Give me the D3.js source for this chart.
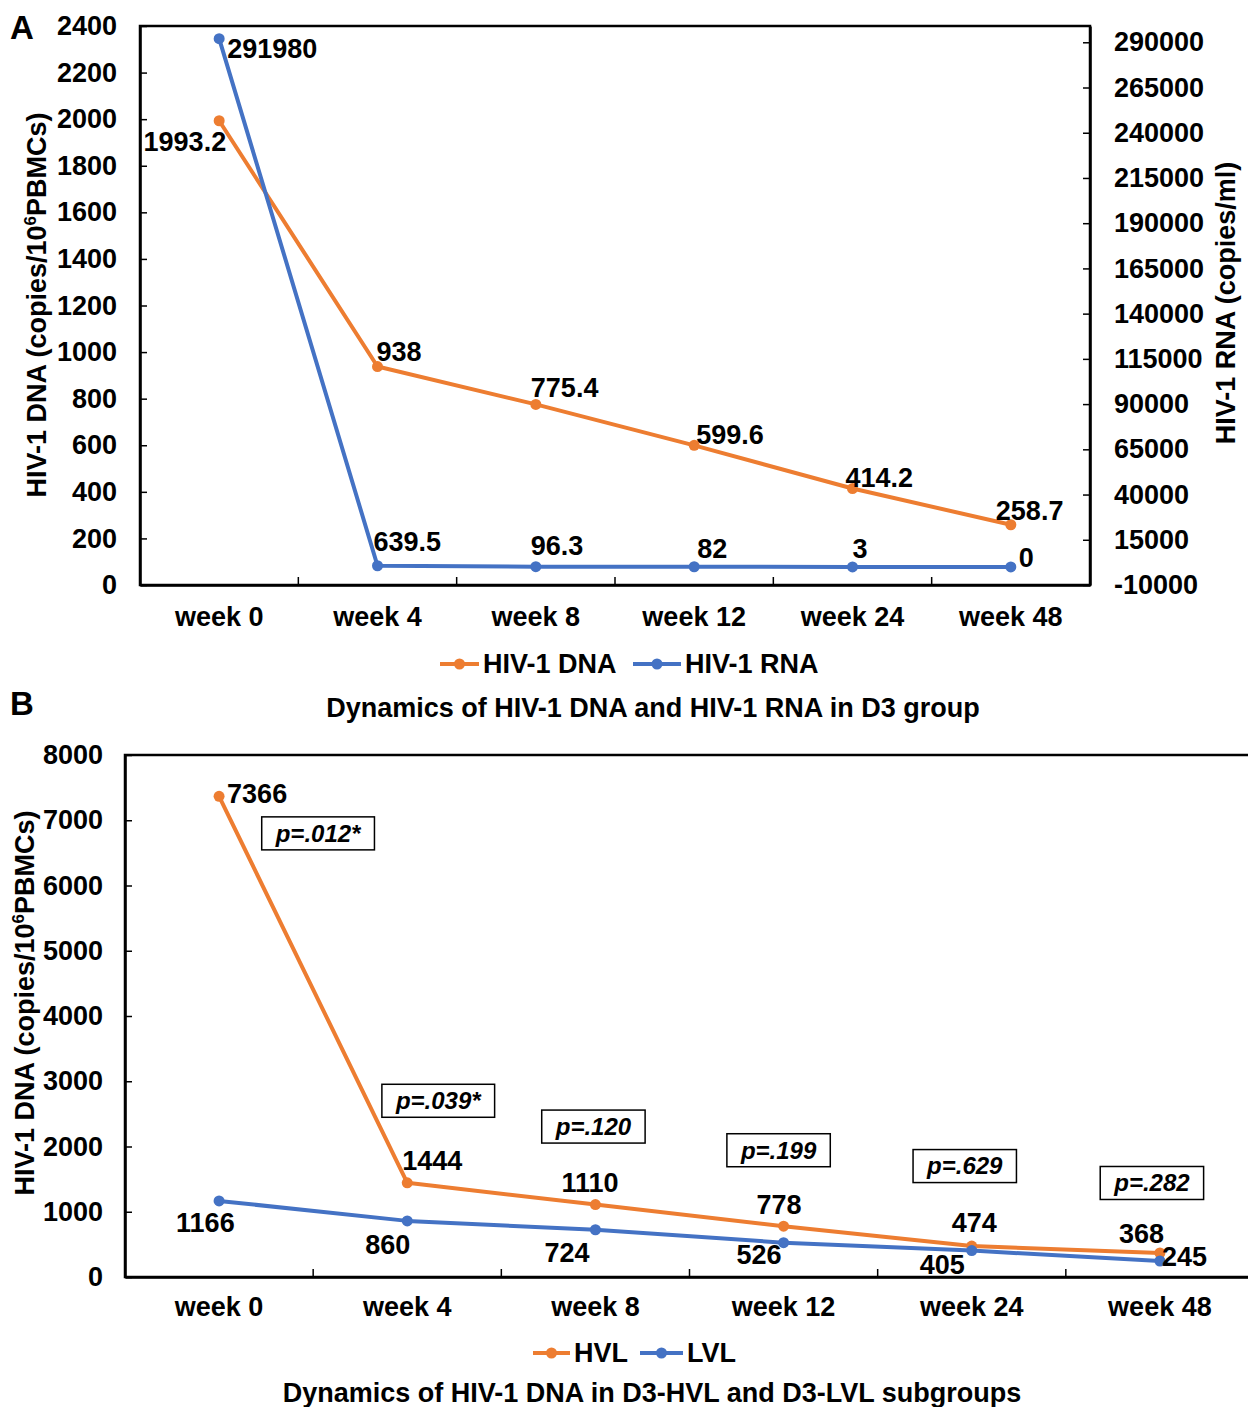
<!DOCTYPE html>
<html>
<head>
<meta charset="utf-8">
<script src="https://cdn.jsdelivr.net/npm/d3@7"></script>
<style>
  body { margin: 0; background: #fff; }
  text { font-family: Arial, "Liberation Sans", sans-serif; font-weight: bold; fill: #000; }
</style>
</head>
<body>
<svg id="chart" width="1248" height="1407"></svg>
<script>
// data
const weeks = ['week 0', 'week 4', 'week 8', 'week 12', 'week 24', 'week 48'];
const dnaD3 = [1993.2, 938, 775.4, 599.6, 414.2, 258.7];
const rnaD3 = [291980, 639.5, 96.3, 82, 3, 0];
const dnaHVL = [7366, 1444, 1110, 778, 474, 368];
const dnaLVL = [1166, 860, 724, 526, 405, 245];
const pValues = ['p=.012*', 'p=.039*', 'p=.120', 'p=.199', 'p=.629', 'p=.282'];
const ticksA = d3.range(0, 2401, 200);
const ticksA2 = d3.range(-10000, 290001, 25000);
const ticksB = d3.range(0, 8001, 1000);

// label placement [dx, dy, anchor]
const labDna = [[7, 21, 'end'], [-1, -15, 'start'], [-5, -17, 'start'], [2, -11, 'start'], [-7, -11, 'start'], [-15, -14, 'start']];
const labRna = [[8, 10, 'start'], [-4, -24, 'start'], [-5, -21, 'start'], [3, -18, 'start'], [0, -18, 'start'], [8, -9, 'start']];
const labHVL = [[8, -3, 'start'], [-5, -22, 'start'], [-34, -22, 'start'], [-27, -22, 'start'], [-20, -24, 'start'], [-41, -19, 'start']];
const labLVL = [[-43, 22, 'start'], [-42, 24, 'start'], [-51, 23, 'start'], [-47, 12, 'start'], [-52, 14, 'start'], [2, -4, 'start']];
const pOffsets = [[99, 37], [31, -82], [-2, -78], [-5, -76], [-7, -80], [-8, -70]];

const ORANGE = '#ED7D31', BLUE = '#4472C4';
const FS = 27;
const plain = d => String(d);
const svg = d3.select('#chart');

function yTitle(g, x, y, label) {
  const t = g.append('text')
    .attr('transform', `translate(${x},${y}) rotate(-90)`)
    .attr('text-anchor', 'middle')
    .attr('dy', '0.35em')
    .attr('font-size', FS);
  t.append('tspan').text(label[0]);
  if (label.length > 1) {
    t.append('tspan').text(label[1]).attr('font-size', 17).attr('dy', '-0.6em');
    t.append('tspan').text(label[2]).attr('dy', '0.35em');
  }
  return t;
}

function styleAxis(g) {
  g.select('.domain').attr('stroke', '#000').attr('stroke-width', 2.5);
  g.selectAll('.tick line').attr('stroke', '#000').attr('stroke-width', 1.5);
  g.selectAll('.tick text').attr('font-size', FS).attr('fill', '#000');
}

function catTicks(g, x, y0) {
  g.append('g').selectAll('line')
    .data(weeks.slice(1))
    .join('line')
    .attr('x1', d => x(d)).attr('x2', d => x(d))
    .attr('y1', y0).attr('y2', y0 - 8)
    .attr('stroke', '#000').attr('stroke-width', 1.5);
}

function series(g, x, y, values, color, place) {
  const pts = values.map((v, i) => [x(weeks[i]) + x.bandwidth() / 2, y(v)]);
  g.append('path')
    .attr('d', d3.line()(pts))
    .attr('fill', 'none')
    .attr('stroke', color)
    .attr('stroke-width', 4)
    .attr('stroke-linejoin', 'round');
  g.append('g').selectAll('circle')
    .data(pts)
    .join('circle')
    .attr('cx', d => d[0]).attr('cy', d => d[1]).attr('r', 5.5)
    .attr('fill', color);
  g.append('g').selectAll('text')
    .data(values)
    .join('text')
    .attr('x', (d, i) => pts[i][0] + place[i][0])
    .attr('y', (d, i) => pts[i][1] + place[i][1])
    .attr('dy', '0.35em')
    .attr('text-anchor', (d, i) => place[i][2])
    .attr('font-size', FS)
    .text(d => String(d));
  return pts;
}

function legend(g, items, y) {
  items.forEach(it => {
    g.append('line')
      .attr('x1', it.x0).attr('x2', it.x1).attr('y1', y).attr('y2', y)
      .attr('stroke', it.color).attr('stroke-width', 4);
    g.append('circle')
      .attr('cx', (it.x0 + it.x1) / 2).attr('cy', y).attr('r', 5.5)
      .attr('fill', it.color);
    g.append('text')
      .attr('x', it.x1 + 4).attr('y', y).attr('dy', '0.35em')
      .attr('font-size', FS)
      .text(it.name);
  });
}

// ---------- Panel A ----------
const gA = svg.append('g');
const xA = d3.scaleBand().domain(weeks).range([140, 1090]);
const yA = d3.scaleLinear().domain([0, 2400]).range([585, 26]);
const yA2 = d3.scaleLinear().domain([-10000, 299000]).range([585, 26]);

gA.append('rect')
  .attr('x', 140).attr('y', 26).attr('width', 950).attr('height', 559)
  .attr('fill', 'none').attr('stroke', '#000').attr('stroke-width', 2.5);

gA.append('g')
  .attr('transform', 'translate(140,0)')
  .call(d3.axisLeft(yA).tickValues(ticksA).tickSizeInner(-7).tickSizeOuter(0).tickPadding(23).tickFormat(plain))
  .call(styleAxis);

gA.append('g')
  .attr('transform', 'translate(1090,0)')
  .call(d3.axisRight(yA2).tickValues(ticksA2).tickSizeInner(-7).tickSizeOuter(0).tickPadding(24).tickFormat(plain))
  .call(styleAxis);

gA.append('g')
  .attr('transform', 'translate(0,585)')
  .call(d3.axisBottom(xA).tickSize(0).tickPadding(22))
  .call(styleAxis);
catTicks(gA, xA, 585);

yTitle(gA, 37, 305, ['HIV-1 DNA (copies/10', '6', 'PBMCs)']);
yTitle(gA, 1226, 303, ['HIV-1 RNA (copies/ml)']);

series(gA, xA, yA, dnaD3, ORANGE, labDna);
series(gA, xA, yA2, rnaD3, BLUE, labRna);

legend(gA, [
  { name: 'HIV-1 DNA', color: ORANGE, x0: 440, x1: 479 },
  { name: 'HIV-1 RNA', color: BLUE, x0: 633, x1: 681 }
], 664);

gA.append('text').attr('x', 653).attr('y', 708).attr('dy', '0.35em')
  .attr('text-anchor', 'middle').attr('font-size', FS)
  .text('Dynamics of HIV-1 DNA and HIV-1 RNA in D3 group');

svg.append('text').attr('x', 10).attr('y', 39).attr('font-size', 33).text('A');
svg.append('text').attr('x', 10).attr('y', 715).attr('font-size', 33).text('B');

// ---------- Panel B ----------
const gB = svg.append('g');
const xB = d3.scaleBand().domain(weeks).range([125, 1254]);
const yB = d3.scaleLinear().domain([0, 8000]).range([1277, 755]);

gB.append('rect')
  .attr('x', 125).attr('y', 755).attr('width', 1129).attr('height', 522)
  .attr('fill', 'none').attr('stroke', '#000').attr('stroke-width', 2.5);

gB.append('g')
  .attr('transform', 'translate(125,0)')
  .call(d3.axisLeft(yB).tickValues(ticksB).tickSizeInner(-7).tickSizeOuter(0).tickPadding(22).tickFormat(plain))
  .call(styleAxis);

gB.append('g')
  .attr('transform', 'translate(0,1277)')
  .call(d3.axisBottom(xB).tickSize(0).tickPadding(20))
  .call(styleAxis);
catTicks(gB, xB, 1277);

yTitle(gB, 25, 1003, ['HIV-1 DNA (copies/10', '6', 'PBMCs)']);

const ptsH = series(gB, xB, yB, dnaHVL, ORANGE, labHVL);
series(gB, xB, yB, dnaLVL, BLUE, labLVL);

// p-value boxes
pValues.forEach((p, i) => {
  const cx = ptsH[i][0] + pOffsets[i][0];
  const cy = ptsH[i][1] + pOffsets[i][1];
  const t = gB.append('text')
    .attr('x', cx).attr('y', cy).attr('dy', '0.35em')
    .attr('text-anchor', 'middle')
    .attr('font-size', 24).attr('font-style', 'italic')
    .text(p);
  const w = t.node().getComputedTextLength() + 28;
  gB.insert('rect', () => t.node())
    .attr('x', cx - w / 2).attr('y', cy - 16.5)
    .attr('width', w).attr('height', 33)
    .attr('fill', '#fff').attr('stroke', '#000').attr('stroke-width', 1.5);
});

legend(gB, [
  { name: 'HVL', color: ORANGE, x0: 533, x1: 570 },
  { name: 'LVL', color: BLUE, x0: 640, x1: 683 }
], 1353);

gB.append('text').attr('x', 652).attr('y', 1393).attr('dy', '0.35em')
  .attr('text-anchor', 'middle').attr('font-size', FS)
  .text('Dynamics of HIV-1 DNA in D3-HVL and D3-LVL subgroups');
</script>
</body>
</html>
